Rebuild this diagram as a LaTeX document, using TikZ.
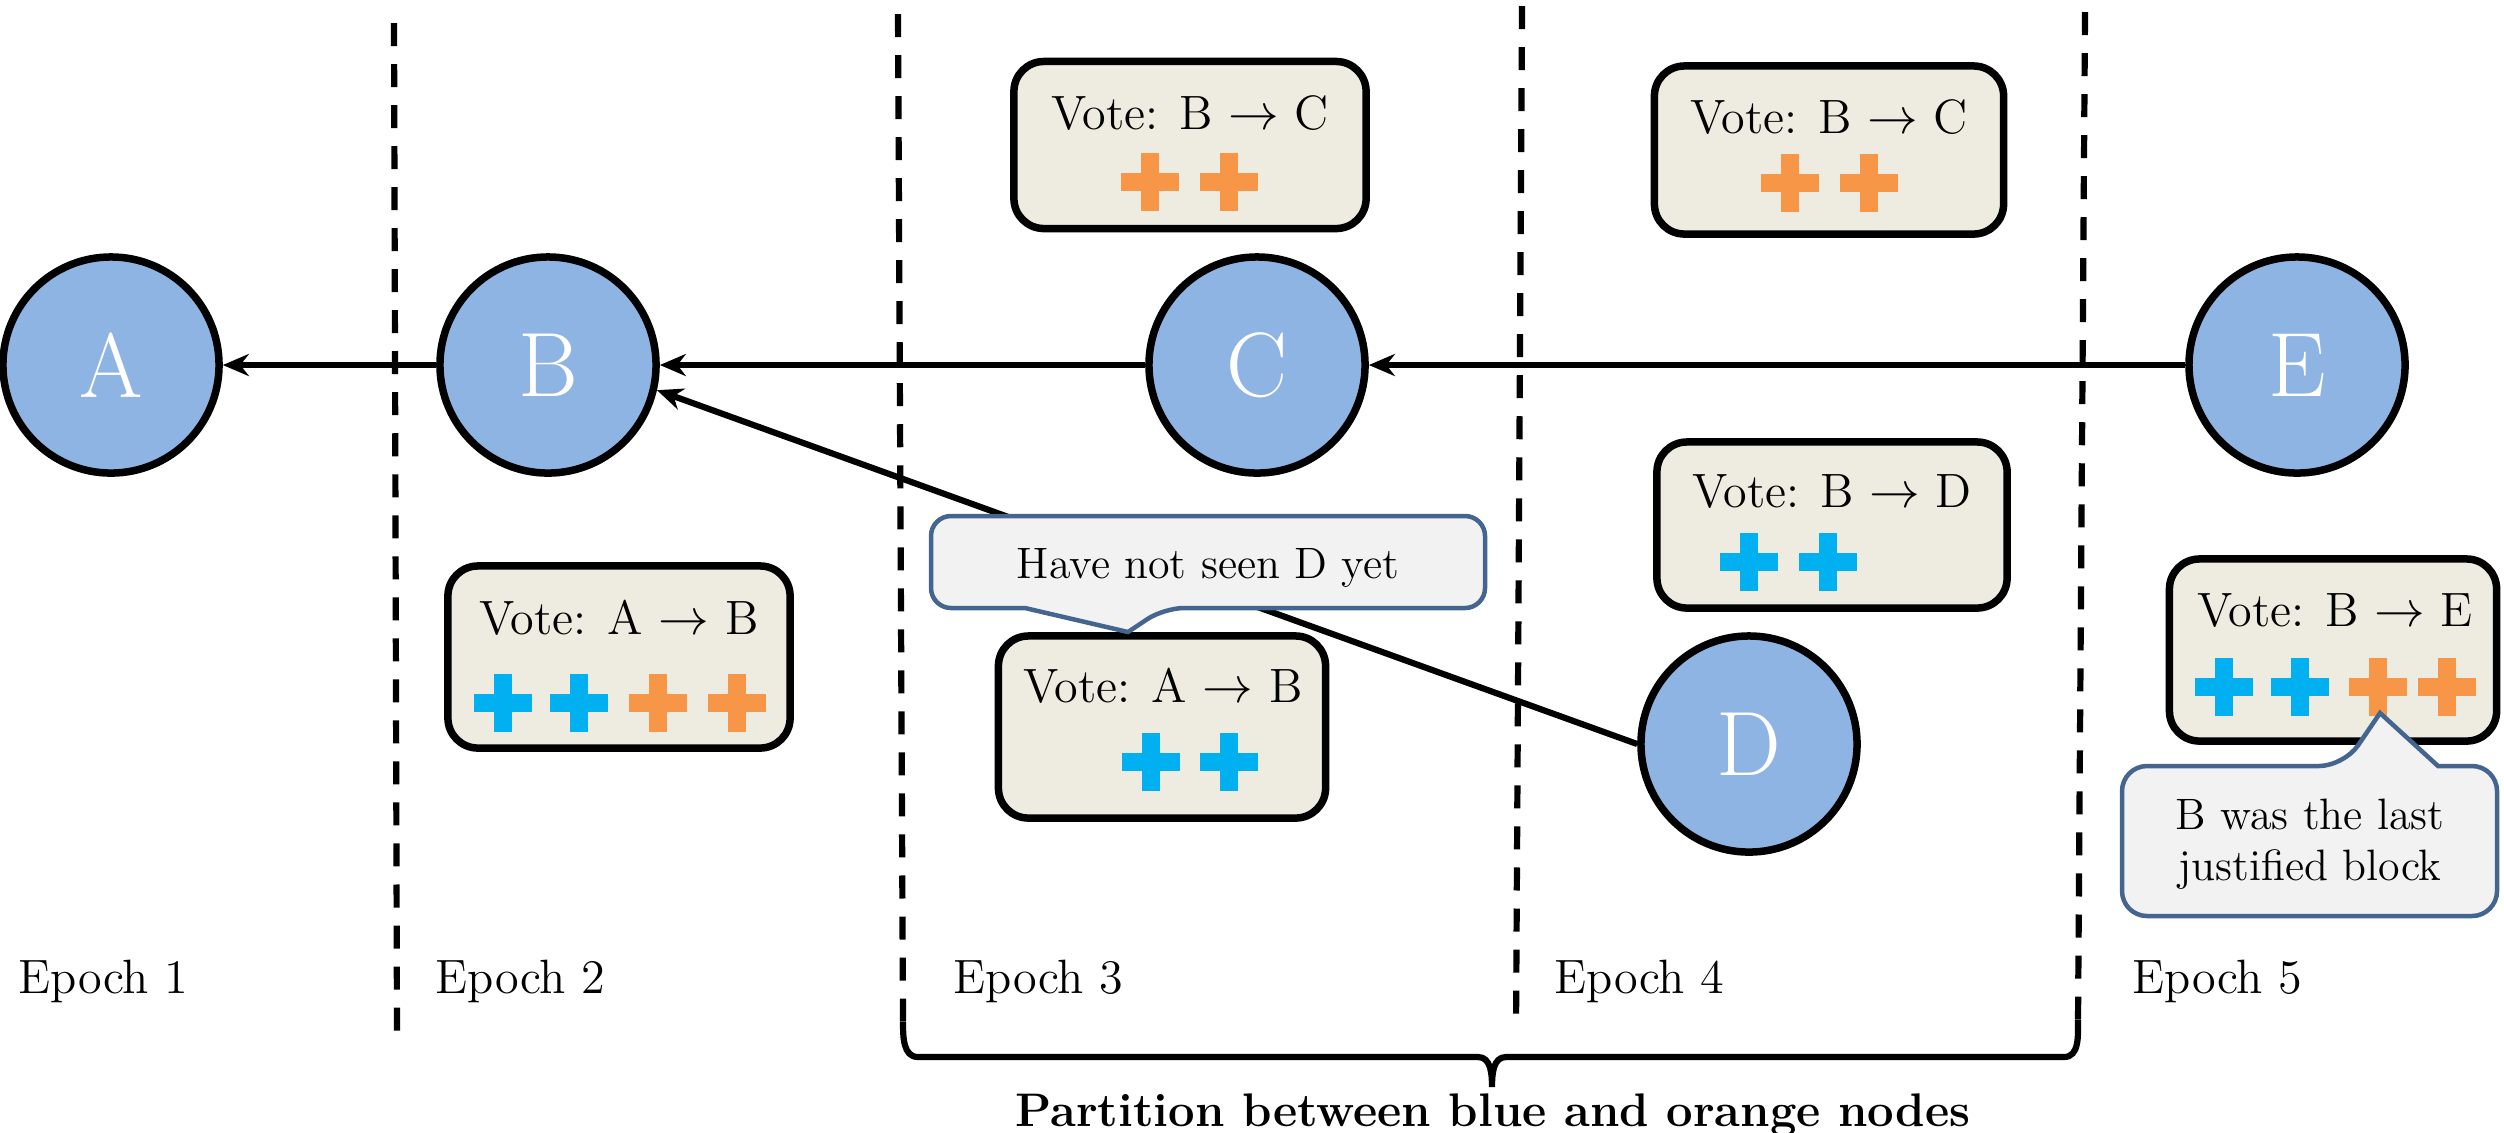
\documentclass[tikz,border=0pt]{standalone}
\usetikzlibrary{arrows.meta}
\definecolor{nodeblue}{HTML}{8EB4E3}
\definecolor{votebg}{HTML}{EEECE1}
\definecolor{callbg}{HTML}{F2F2F2}
\definecolor{callbd}{HTML}{44658F}
\definecolor{pblue}{HTML}{00B0F0}
\definecolor{porange}{HTML}{F79646}
\begin{document}
\begin{tikzpicture}[x=0.01cm,y=-0.01cm,
  block/.style={circle, draw=black, line width=0.075cm, fill=nodeblue, minimum size=2.16cm, inner sep=0pt, text=white, font=\fontsize{26}{30}\selectfont},
  conn/.style={line width=0.062cm, -{Stealth[length=0.26cm,width=0.22cm]}},
  sepline/.style={line width=0.062cm, dash pattern=on 0.23cm off 0.18cm},
  votebox/.style={draw=black, line width=0.075cm, fill=votebg, rounded corners=0.3cm, inner sep=0pt},
  txt/.style={font=\fontsize{13.7}{16}\selectfont, inner sep=0pt, anchor=base},
  eptxt/.style={font=\fontsize{13.7}{16}\selectfont, inner sep=0pt, anchor=base west},
  ctxt/.style={font=\fontsize{12.5}{15}\selectfont, inner sep=0pt, anchor=base},
  callout/.style={draw=callbd, line width=0.045cm, fill=callbg},
  bracket/.style={line width=0.062cm},
  plus/.pic={\fill[#1] (-29,-9) rectangle (29,9); \fill[#1] (-9,-29) rectangle (9,29);}
]
\useasboundingbox (0,0) rectangle (2504,1132);

% epoch separators
\draw[sepline] (394,23) -- (397,1031);
\draw[sepline] (898,14) -- (903,1022);
\draw[sepline] (1522,6) -- (1516,1027);
\draw[sepline] (2085,12) -- (2078,1020);

% bracket
\draw[bracket] (903,1022) to[out=-90,in=180] (918,1057) -- (1478,1057) to[out=0,in=90] (1492,1087) to[out=90,in=180] (1506,1057) -- (2064,1057) to[out=0,in=-90] (2078,1020);
\node[font=\fontsize{13.4}{15}\selectfont\bfseries, inner sep=0pt, anchor=base] (part) at (1493,1126) {Partition between blue and orange nodes};

% epoch labels
\node[eptxt] (e1) at (18,993) {Epoch 1};
\node[eptxt] (e2) at (435,993) {Epoch 2};
\node[eptxt] (e3) at (953,993) {Epoch 3};
\node[eptxt] (e4) at (1554,993) {Epoch 4};
\node[eptxt] (e5) at (2132,993) {Epoch 5};

% blocks
\node[block] (A) at (111,365) {A};
\node[block] (B) at (548,365) {B};
\node[block] (C) at (1257,365) {C};
\node[block] (D) at (1749,744) {D};
\node[block] (E) at (2297,365) {E};

% connectors
\draw[conn] (B) -- (A);
\draw[conn] (C.west) -- (B.east);
\draw[conn] (E) -- (C);
\draw[conn] (D.west) -- (B.-13);

% vote boxes
\node[votebox, minimum width=3.42cm, minimum height=1.82cm] (v1) at (619,657) {};
\node[txt] (v1t) at (619,634) {Vote: A $\rightarrow$ B};
\pic at (503,703) {plus=pblue};
\pic at (579,703) {plus=pblue};
\pic at (658,703) {plus=porange};
\pic at (737,703) {plus=porange};

\node[votebox, minimum width=3.52cm, minimum height=1.67cm] (v2) at (1190,145) {};
\node[txt] (v2t) at (1190,129) {Vote: B $\rightarrow$ C};
\pic at (1150,182) {plus=porange};
\pic at (1229,182) {plus=porange};

\node[votebox, minimum width=3.49cm, minimum height=1.68cm] (v3) at (1829,150) {};
\node[txt] (v3t) at (1829,133) {Vote: B $\rightarrow$ C};
\pic at (1790,183) {plus=porange};
\pic at (1869,183) {plus=porange};

\node[votebox, minimum width=3.50cm, minimum height=1.66cm] (v4) at (1832,525) {};
\node[txt] (v4t) at (1832,507) {Vote: B $\rightarrow$ D};
\pic at (1749,562) {plus=pblue};
\pic at (1828,562) {plus=pblue};

\node[votebox, minimum width=3.27cm, minimum height=1.82cm] (v5) at (1162,727) {};
\node[txt] (v5t) at (1163,702) {Vote: A $\rightarrow$ B};
\pic at (1151,762) {plus=pblue};
\pic at (1229,762) {plus=pblue};

\node[votebox, minimum width=3.27cm, minimum height=1.82cm] (v6) at (2333,650) {};
\node[txt] (v6t) at (2335,626) {Vote: B $\rightarrow$ E};
\pic at (2224,687) {plus=pblue};
\pic at (2300,687) {plus=pblue};
\pic at (2378,687) {plus=porange};
\pic at (2447,687) {plus=porange};

% callouts
\draw[callout, rounded corners=0.2cm] (1200,516) -- (1485,516) -- (1485,608) -- (1164,608) [sharp corners] -- (1128,632) -- (1025,608) [rounded corners=0.2cm] -- (931,608) -- (931,516) -- cycle;
\node[ctxt] (c1) at (1208,578) {Have not seen D yet};

\draw[callout, rounded corners=0.25cm] (2300,916) -- (2122,916) -- (2122,766) -- (2344,766) [sharp corners] -- (2380,713) -- (2438,766) [rounded corners=0.25cm] -- (2497,766) -- (2497,916) -- cycle;
\node[ctxt] (c2a) at (2310,829) {B was the last};
\node[ctxt] (c2b) at (2310,880) {justified block};
\end{tikzpicture}
\end{document}
